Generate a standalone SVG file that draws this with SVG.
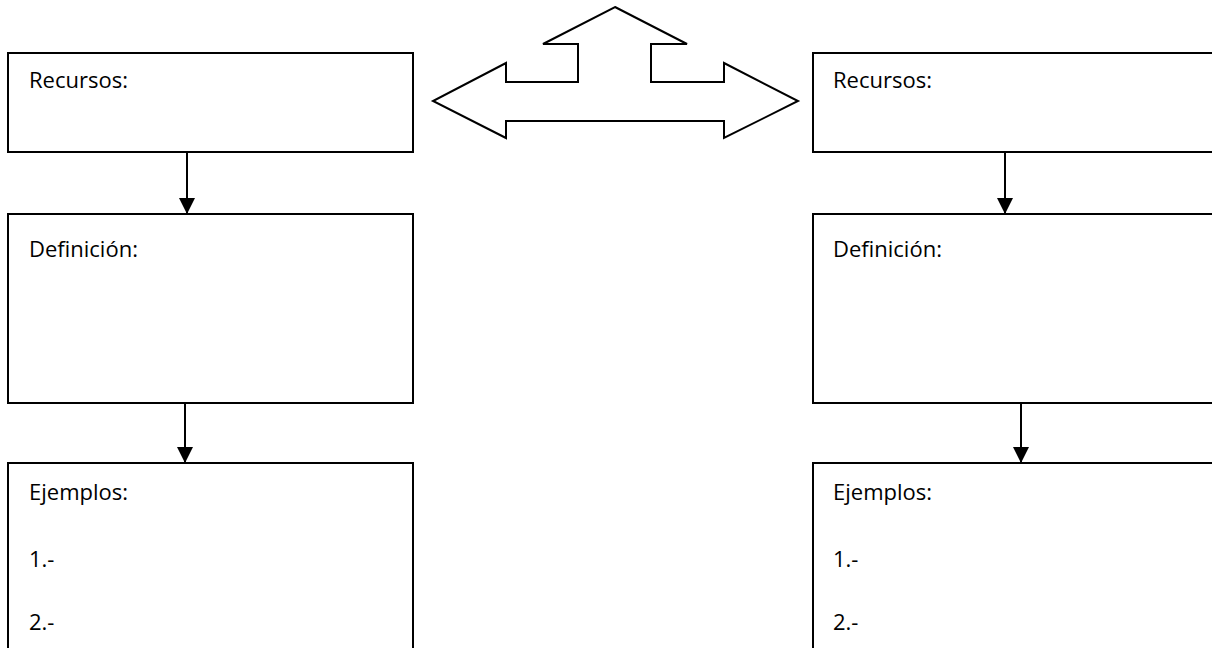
<svg xmlns="http://www.w3.org/2000/svg" width="1212" height="648" viewBox="0 0 1212 648">
<style>
.box{fill:#fff;stroke:#000;stroke-width:2}
.lbl{font-family:"Open Sans","Noto Sans",sans-serif;font-size:22px;fill:#000}
.con{stroke:#000;stroke-width:2;fill:none}
</style>
<defs>
<marker id="ah" markerUnits="userSpaceOnUse" markerWidth="16" markerHeight="16" viewBox="0 0 16 16" refX="16" refY="8" orient="auto">
<path d="M0,0 L16,8 L0,16 Z" fill="#000"/>
</marker>
</defs>
<rect width="1212" height="648" fill="#fff"/>
<g id="bigarrow">
<polygon points="615,7 687,44 651,44 651,82 724,82 724,63 798,101 724,138 724,121 506,121 506,138 433,101 506,63 506,82 578,82 578,44 543,44" fill="#fff" stroke="#000" stroke-width="2" stroke-linejoin="miter"/>
</g>
<g id="l-recursos"><rect class="box" x="8" y="53" width="405" height="99"/><text class="lbl" x="29" y="88">Recursos:</text></g>
<g id="l-definicion"><rect class="box" x="8" y="214" width="405" height="189"/><text class="lbl" x="29" y="257">Definición:</text></g>
<g id="l-ejemplos"><rect class="box" x="8" y="463" width="405" height="200"/><text class="lbl" x="29" y="500">Ejemplos:</text><text class="lbl" x="29" y="567">1.-</text><text class="lbl" x="29" y="630">2.-</text></g>
<g id="r-recursos"><rect class="box" x="813" y="53" width="410" height="99"/><text class="lbl" x="833" y="88">Recursos:</text></g>
<g id="r-definicion"><rect class="box" x="813" y="214" width="410" height="189"/><text class="lbl" x="833" y="257">Definición:</text></g>
<g id="r-ejemplos"><rect class="box" x="813" y="463" width="410" height="200"/><text class="lbl" x="833" y="500">Ejemplos:</text><text class="lbl" x="833" y="567">1.-</text><text class="lbl" x="833" y="630">2.-</text></g>
<g id="connectors">
<line class="con" x1="187" y1="152" x2="187" y2="214" marker-end="url(#ah)"/>
<line class="con" x1="185" y1="403" x2="185" y2="463" marker-end="url(#ah)"/>
<line class="con" x1="1005" y1="152" x2="1005" y2="214" marker-end="url(#ah)"/>
<line class="con" x1="1021" y1="403" x2="1021" y2="463" marker-end="url(#ah)"/>
</g>
</svg>
